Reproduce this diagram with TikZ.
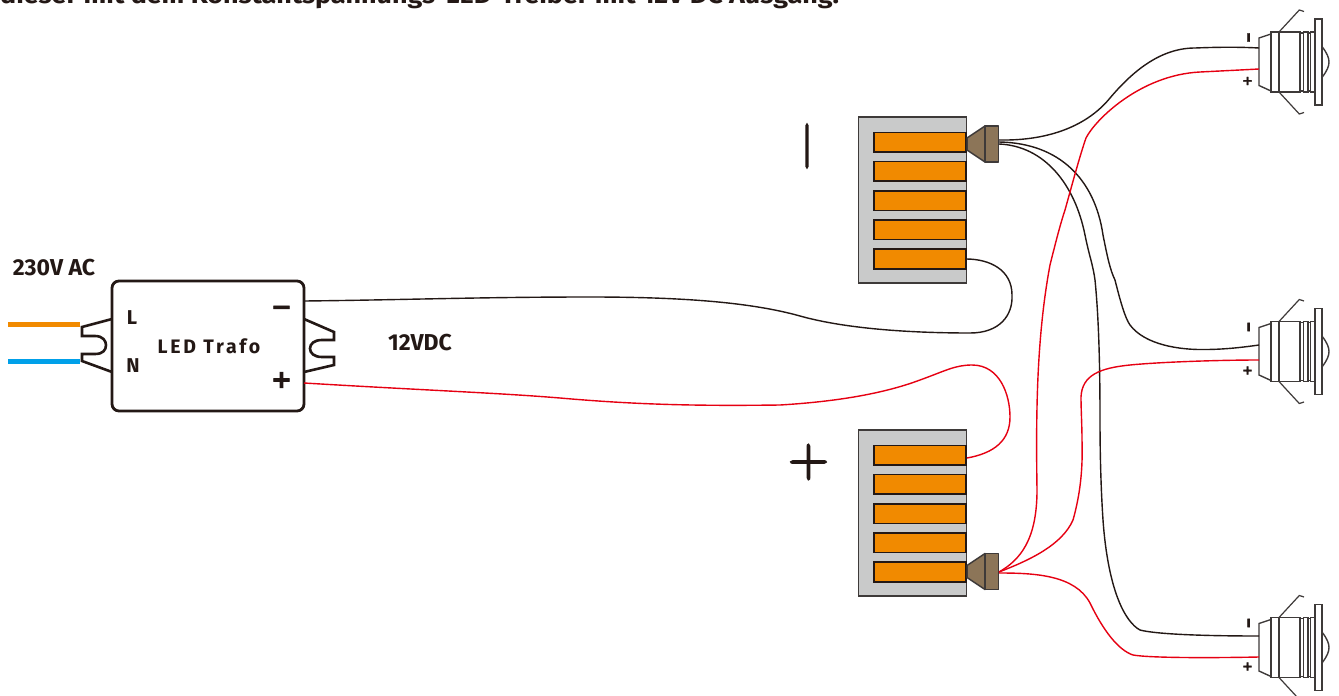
\documentclass[tikz,border=0pt]{standalone}
\usepackage{fontspec}
\newfontfamily\lab{Fira Sans}
\newfontfamily\labwide{Fira Sans}[FakeStretch=1.12]
\newfontfamily\labsp{Fira Sans}[LetterSpace=14]
\newfontfamily\sym{DejaVu Sans}[BoldFeatures={FakeBold=2.5}]
\newfontfamily\thin{Latin Modern Roman}[FakeBold=3]
\definecolor{ink}{HTML}{231815}
\definecolor{edge}{HTML}{3E3A39}
\definecolor{wred}{HTML}{E60012}
\definecolor{word}{HTML}{F18A00}
\definecolor{wblue}{HTML}{00A0E9}
\definecolor{bgray}{HTML}{C9CACA}
\definecolor{capb}{HTML}{8C7558}
\tikzset{
  wireb/.style={draw=ink,line width=1.4pt},
  wirer/.style={draw=wred,line width=1.4pt},
  block/.style={rectangle,draw=edge,fill=bgray,line width=1.5pt,minimum width=108pt,minimum height=166pt,inner sep=0pt},
  bar/.style={rectangle,draw=ink,fill=word,line width=1.6pt,minimum width=92.5pt,minimum height=19.5pt,inner sep=0pt},
  capbody/.style={draw=edge,fill=capb,line width=1.5pt,line join=round},
  trafo/.style={rectangle,draw=ink,fill=white,line width=2.8pt,rounded corners=7pt,minimum width=192pt,minimum height=130pt,inner sep=0pt},
  clipline/.style={draw=ink,line width=2.6pt,line join=miter},
  lab/.style={font=\lab\bfseries\fontsize{23}{25}\selectfont,text=ink,inner sep=0pt},
  lampline/.style={draw=edge,line width=1.4pt,fill=white},
  lamp/.pic={
    \draw[lampline] (38.3,-15) .. controls (43,-9) and (45,-4) .. (45,0) .. controls (45,4) and (43,9) .. (38.3,15);
    \draw[lampline,line width=1.2pt] (-5,-30) -- (15.3,-52) -- (20,-50.5);
    \draw[lampline,line width=1.2pt] (-5,30) -- (15.3,52) -- (20,50.5);
    \draw[lampline] (-25,-24) -- (-13,-28) -- (-13,29) -- (-25,23.5) -- cycle;
    \draw[lampline,line width=1.6pt] (-13,-30) rectangle (-5,30);
    \draw[lampline,line width=1.6pt] (-5,-30) rectangle (16,30);
    \draw[lampline] (16,-29) rectangle (19.3,29);
    \draw[lampline] (19.3,-30) rectangle (24,30);
    \draw[lampline] (24,-29) rectangle (26.7,29);
    \draw[lampline] (26.7,-30) rectangle (30.7,30);
    \draw[lampline,line width=1.7pt] (30.7,-43) rectangle (38.3,43);
  },
}
\begin{document}
\begin{tikzpicture}[x=1pt,y=-1pt]
\useasboundingbox (0,0) rectangle (1339,696);
\clip (0,0) rectangle (1339,696);
\fill[white] (0,0) rectangle (1339,696);

\node[anchor=base west,inner sep=0pt,text=ink,font=\labwide\bfseries\fontsize{24}{26}\selectfont] (title) at (0,3.5) {dieser mit dem Konstantspannungs-LED-Treiber mit 12V DC Ausgang.};

% mains wires
\coordinate (orangeA) at (8,324); \coordinate (orangeB) at (80,324);
\coordinate (blueA) at (8,361); \coordinate (blueB) at (80,361);
\draw[draw=word,line width=5pt] (orangeA) -- (orangeB);
\draw[draw=wblue,line width=5pt] (blueA) -- (blueB);

% terminal clips
\draw[clipline] (112,319) -- (82,327) -- (82,336) -- (95,336) .. controls (103,336) and (106,341) .. (106,345) .. controls (106,350) and (103,354) .. (95,354) -- (82,354) -- (82,361) -- (112,372);
\draw[clipline] (304,319) -- (334,332) -- (334,340) -- (322,340) .. controls (314,340) and (310,344) .. (310,348.5) .. controls (310,353) and (314,357) .. (322,357) -- (334,357) -- (334,365) -- (304,372);

% transformer
\node[trafo] (drv) at (208,346) {};
\node[font=\labsp\bfseries\fontsize{19.5}{21}\selectfont,text=ink,inner sep=0pt] (drvname) at (209,346) {LED Trafo};
\node[lab,font=\lab\bfseries\fontsize{20}{22}\selectfont] (drvL) at (132,318) {L};
\node[lab,font=\lab\bfseries\fontsize{20}{22}\selectfont] (drvN) at (133,366) {N};
\node[font=\sym\bfseries\fontsize{25}{25}\selectfont,text=ink,inner sep=0pt] (drvminus) at (281.5,310.5) {−};
\node[font=\sym\bfseries\fontsize{25}{25}\selectfont,text=ink,inner sep=0pt] (drvplus) at (281.5,380) {+};
\node[lab] (acv) at (54,268) {230V AC};
\node[lab] (dcv) at (420,343) {12VDC};

% blocks
\node[block] (blockA) at (912.5,200) {};
\node[block] (blockB) at (912.5,513) {};
\foreach \i/\yy in {1/142.25,2/171.25,3/200.75,4/229.75,5/259}{
  \node[bar] (barA\i) at (920,\yy) {};
  \node[bar] (barB\i) at (920,\yy+313) {};
}
\node[font=\thin\fontsize{44}{44}\selectfont,text=ink,inner sep=0pt] (minussign) at (807,146) {|};
\node[font=\thin\fontsize{56}{56}\selectfont,text=ink,inner sep=0pt] (plussign) at (808.5,462) {+};

% wire caps
\draw[capbody] (967,138) -- (985,126) -- (985,162) -- (967,150) -- cycle;
\draw[capbody] (985,126) rectangle (998.5,162);
\draw[capbody] (967,565.5) -- (985,553.5) -- (985,589.5) -- (967,577.5) -- cycle;
\draw[capbody] (985,553.5) rectangle (998.5,589.5);

% lamps
\pic at (1284,62) {lamp};
\pic at (1284,351.5) {lamp};
\pic at (1284,647.5) {lamp};
\foreach \n/\yy in {a/62,b/351.5,c/647.5}{
  \node[font=\sym\bfseries\fontsize{11.5}{12}\selectfont,text=ink,inner sep=0pt] (lamp\n minus) at (1248.7,\yy-24.5) {I};
  \node[font=\sym\bfseries\fontsize{13}{13}\selectfont,text=ink,inner sep=0pt] (lamp\n plus) at (1247.5,\yy+19) {+};
}

% wire ends
\coordinate (dneg) at (304,301);
\coordinate (dpos) at (304,383);
\coordinate (a5) at (966,259);
\coordinate (b1) at (967,458);
\coordinate (capA1) at (999,140);
\coordinate (capA2) at (999,142);
\coordinate (capA3) at (999,144);
\coordinate (capB1) at (999,572);
\coordinate (capB2) at (999,573);
\coordinate (la-n) at (1259,48);
\coordinate (la-p) at (1259,69);
\coordinate (lb-n) at (1259,345);
\coordinate (lb-p) at (1259,360);
\coordinate (lc-n) at (1259,636);
\coordinate (lc-p) at (1259,657);

% black wires
\draw[wireb] (dneg) .. controls (400,300) and (480,297) .. (590,297) .. controls (680,297) and (750,302) .. (800,316) .. controls (850,330) and (920,333) .. (970,333) .. controls (1000,333) and (1013,315) .. (1012,295) .. controls (1012,270) and (990,259) .. (a5);
\draw[wireb] (capA1) .. controls (1050,141) and (1088,125) .. (1110,98) .. controls (1132,72) and (1160,48) .. (1195,48) .. controls (1220,47) and (1240,47) .. (la-n);
\draw[wireb] (capA2) .. controls (1060,143) and (1095,180) .. (1103,235) .. controls (1107,255) and (1110,270) .. (1115,280) .. controls (1120,300) and (1125,318) .. (1130,325) .. controls (1145,345) and (1180,350) .. (1205,349.5) .. controls (1225,349.5) and (1245,347) .. (lb-n);
\draw[wireb] (capA3) .. controls (1045,146) and (1075,185) .. (1085,235) .. controls (1089,255) and (1093,265) .. (1095,280) .. controls (1099,320) and (1100,370) .. (1100,420) .. controls (1100,455) and (1101,490) .. (1103,520) .. controls (1108,590) and (1125,622) .. (1140,630) .. controls (1155,634) and (1200,636) .. (lc-n);

% red wires
\draw[wirer] (dpos) .. controls (420,390) and (500,393) .. (560,398) .. controls (640,405) and (700,406) .. (780,405) .. controls (830,402) and (880,395) .. (920,380) .. controls (945,371) and (955,365) .. (972,365) .. controls (1000,365) and (1010,395) .. (1010,417) .. controls (1010,440) and (995,453) .. (b1);
\draw[wirer] (capB1) .. controls (1020,560) and (1037,540) .. (1037,490) .. controls (1036,420) and (1036,340) .. (1050,265) .. controls (1055,245) and (1060,225) .. (1065,210) .. controls (1072,185) and (1080,155) .. (1086,138) .. controls (1095,120) and (1140,75) .. (1200,72) .. controls (1220,71) and (1240,70) .. (la-p);
\draw[wirer] (capB1) .. controls (1030,560) and (1062,545) .. (1073,520) .. controls (1080,495) and (1083,470) .. (1082,440) .. controls (1082,425) and (1081,410) .. (1081,397) .. controls (1082,375) and (1100,368) .. (1130,365) .. controls (1160,362) and (1220,360) .. (lb-p);
\draw[wirer] (capB2) .. controls (1035,573) and (1075,575) .. (1090,603) .. controls (1103,630) and (1118,650) .. (1133,655) .. controls (1150,658) and (1210,658) .. (lc-p);
\end{tikzpicture}
\end{document}
